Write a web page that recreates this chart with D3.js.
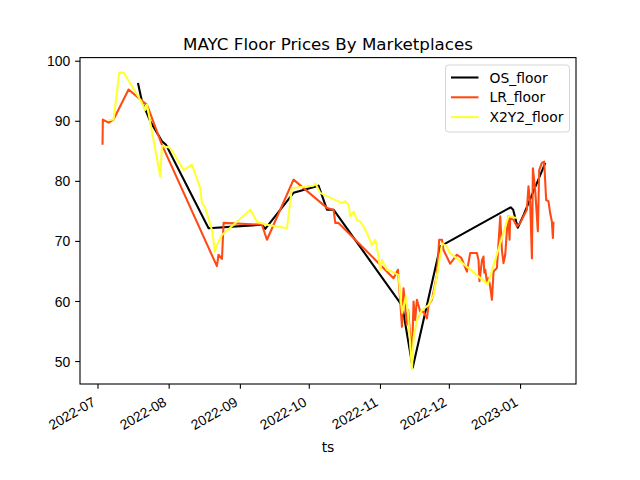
<!DOCTYPE html>
<html>
<head>
<meta charset="utf-8">
<script src="https://cdn.jsdelivr.net/npm/d3@7"></script>
<style>
  html, body { margin: 0; padding: 0; background: #fff; }
  svg { display: block; font-family: "DejaVu Sans", sans-serif; }
</style>
</head>
<body>
<svg id="chart" width="640" height="480"></svg>
<script>
const chartTitle = "MAYC Floor Prices By Marketplaces";
const xLabel = "ts";
const seriesNames = ["OS_floor", "LR_floor", "X2Y2_floor"];
const seriesColors = ["#000000", "#ff4a14", "#ffff33"];
const yTicks = [50, 60, 70, 80, 90, 100];

const osDates = ["2022-07-18 15:00","2022-07-20 09:00","2022-07-24 00:00","2022-07-29 02:00","2022-07-30 20:00",
  "2022-08-18 09:00","2022-09-10 15:00","2022-09-12 01:00","2022-09-24 09:00","2022-10-05 06:00",
  "2022-10-08 22:00","2022-10-11 19:00","2022-11-10 17:00","2022-11-15 06:00","2022-11-27 06:00",
  "2022-12-27 22:00","2022-12-29 00:00","2022-12-31 00:00","2023-01-02 12:00","2023-01-12 00:00"];
const osValues = [96.3,93.2,89.9,86.6,86.0,72.1,72.7,72.0,78.0,79.2,75.2,75.2,59.2,48.9,69.1,75.6,75.2,72.2,74.3,83.0];

const lrDates = ["2022-07-03 05:00","2022-07-03 08:00","2022-07-05 20:00","2022-07-08 00:00","2022-07-14 13:00",
  "2022-07-21 02:00","2022-07-22 13:00","2022-07-29 02:00","2022-08-22 00:00","2022-08-22 17:00",
  "2022-08-24 05:00","2022-08-24 22:00","2022-09-10 15:00","2022-09-12 19:00","2022-09-24 09:00",
  "2022-10-08 22:00","2022-10-11 19:00","2022-10-12 13:00","2022-10-13 23:00","2022-11-06 22:00",
  "2022-11-08 20:00","2022-11-09 20:00","2022-11-10 14:00","2022-11-11 06:00","2022-11-12 00:00",
  "2022-11-12 16:00","2022-11-13 07:00","2022-11-14 22:00","2022-11-15 15:00","2022-11-16 08:00",
  "2022-11-17 02:00","2022-11-18 13:00","2022-11-20 00:00","2022-11-21 11:00","2022-11-22 04:00",
  "2022-11-23 15:00","2022-11-25 19:00","2022-11-26 19:00","2022-11-28 00:00","2022-11-28 16:00",
  "2022-12-01 14:00","2022-12-04 12:00","2022-12-06 09:00","2022-12-08 21:00","2022-12-10 07:00",
  "2022-12-13 05:00","2022-12-13 22:00","2022-12-14 08:00","2022-12-15 10:00","2022-12-16 02:00",
  "2022-12-16 10:00","2022-12-16 20:00","2022-12-17 14:00","2022-12-18 06:00","2022-12-19 00:00",
  "2022-12-19 18:00","2022-12-20 11:00","2022-12-21 22:00","2022-12-23 09:00","2022-12-24 02:00",
  "2022-12-24 19:00","2022-12-25 13:00","2022-12-26 07:00","2022-12-26 23:00","2022-12-27 10:00",
  "2022-12-27 17:00","2022-12-29 04:00","2022-12-30 15:00","2023-01-01 02:00","2023-01-02 12:00",
  "2023-01-03 23:00","2023-01-04 16:00","2023-01-05 10:00","2023-01-06 04:00","2023-01-06 14:00",
  "2023-01-07 14:00","2023-01-08 18:00","2023-01-09 08:00","2023-01-10 12:00","2023-01-11 12:00",
  "2023-01-12 09:00","2023-01-13 09:00","2023-01-14 03:00","2023-01-14 21:00","2023-01-15 07:00",
  "2023-01-15 13:00"];
const lrValues = [86.0,90.2,89.7,90.2,95.2,93.1,92.7,86.0,65.8,67.7,
  67.0,73.0,72.7,70.2,80.2,75.5,75.2,73.0,73.0,63.8,
  65.2,59.9,55.7,62.1,59.3,56.0,58.5,50.5,59.9,56.8,
  60.2,58.2,58.2,57.1,59.3,60.2,64.3,70.2,70.2,68.5,
  66.2,67.7,67.2,64.9,68.0,68.0,66.8,63.3,66.8,67.4,
  64.7,65.2,63.2,63.8,62.4,60.2,64.9,65.5,74.1,68.5,
  66.3,67.7,71.8,74.1,70.2,73.8,73.5,72.4,73.0,74.1,
  75.2,79.1,76.3,67.1,82.1,78.5,71.6,81.8,83.0,83.2,
  76.8,76.6,74.6,73.2,70.5,73.2];

const x2Dates = ["2022-07-05 20:00","2022-07-08 00:00","2022-07-10 12:00","2022-07-12 09:00","2022-07-20 09:00",
  "2022-07-21 19:00","2022-07-22 13:00","2022-07-28 08:00","2022-07-29 02:00","2022-08-01 17:00",
  "2022-08-07 12:00","2022-08-11 03:00","2022-08-14 18:00","2022-08-15 12:00","2022-08-16 22:00",
  "2022-08-20 00:00","2022-08-21 02:00","2022-08-22 00:00","2022-08-24 05:00","2022-09-05 14:00",
  "2022-09-08 10:00","2022-09-12 19:00","2022-09-21 12:00","2022-09-23 16:00","2022-10-03 02:00",
  "2022-10-03 20:00","2022-10-06 00:00","2022-10-15 11:00","2022-10-16 21:00","2022-10-18 08:00",
  "2022-10-19 01:00","2022-10-20 12:00","2022-10-21 23:00","2022-10-23 10:00","2022-10-24 20:00",
  "2022-10-26 08:00","2022-10-28 12:00","2022-10-29 23:00","2022-10-31 09:00","2022-11-01 03:00",
  "2022-11-01 21:00","2022-11-04 01:00","2022-11-06 05:00","2022-11-09 02:00","2022-11-10 01:00",
  "2022-11-10 17:00","2022-11-12 05:00","2022-11-13 04:00","2022-11-14 22:00","2022-11-15 15:00",
  "2022-11-17 02:00","2022-11-19 06:00","2022-11-22 04:00","2022-11-24 08:00","2022-11-26 12:00",
  "2022-11-28 00:00","2022-11-30 04:00","2022-11-30 23:00","2022-12-17 23:00","2022-12-26 23:00",
  "2022-12-30 15:00"];
const x2Values = [90.1,90.2,98.05,98.05,93.0,91.8,92.7,80.7,85.8,85.5,
  81.8,82.7,78.8,76.3,75.5,71.6,68.2,69.3,71.0,75.2,
  73.2,72.7,72.1,78.8,79.2,79.6,78.0,76.3,76.6,76.0,
  74.1,74.9,73.5,73.2,72.4,71.3,69.3,70.2,67.4,65.2,
  66.8,65.2,64.9,64.3,60.2,58.0,60.7,58.2,48.65,53.8,
  56.8,58.5,59.3,61.0,65.8,69.6,69.1,68.2,62.8,74.1,
  73.8];

const parse = d3.utcParse("%Y-%m-%d %H:%M");
const series = [
  {name: seriesNames[0], color: seriesColors[0], pts: osDates.map((d, i) => ({t: parse(d), v: osValues[i]}))},
  {name: seriesNames[1], color: seriesColors[1], pts: lrDates.map((d, i) => ({t: parse(d), v: lrValues[i]}))},
  {name: seriesNames[2], color: seriesColors[2], pts: x2Dates.map((d, i) => ({t: parse(d), v: x2Values[i]}))}
];

const W = 640, H = 480;
const L = 80, R = 576, T = 57.6, B = 384;

const allPts = series.flatMap(s => s.pts);
const tExt = d3.extent(allPts, p => +p.t);
const vExt = d3.extent(allPts, p => p.v);
const tPad = (tExt[1] - tExt[0]) * 0.05;
const vPad = (vExt[1] - vExt[0]) * 0.05;

const x = d3.scaleUtc().domain([new Date(tExt[0] - tPad), new Date(tExt[1] + tPad)]).range([L, R]);
const y = d3.scaleLinear().domain([vExt[0] - vPad, vExt[1] + vPad]).range([B, T]);

const svg = d3.select("#chart");
svg.append("rect").attr("width", W).attr("height", H).attr("fill", "#fff");

// lines
const clip = svg.append("clipPath").attr("id", "clip").append("rect")
  .attr("x", L).attr("y", T).attr("width", R - L).attr("height", B - T);
const line = d3.line().x(p => x(p.t)).y(p => y(p.v));
const g = svg.append("g").attr("clip-path", "url(#clip)");
series.forEach(s => {
  g.append("path").datum(s.pts)
    .attr("d", line)
    .attr("fill", "none")
    .attr("stroke", s.color)
    .attr("stroke-width", 2.08)
    .attr("stroke-linejoin", "round")
    .attr("stroke-linecap", "butt");
});

// frame
svg.append("rect").attr("x", L).attr("y", T).attr("width", R - L).attr("height", B - T)
  .attr("fill", "none").attr("stroke", "#000").attr("stroke-width", 1.1);

// x axis
const xAxis = d3.axisBottom(x).ticks(d3.utcMonth.every(1)).tickFormat(d3.utcFormat("%Y-%m"))
  .tickSize(4.86).tickPadding(0);
const gx = svg.append("g").attr("transform", `translate(0,${B})`).call(xAxis);
gx.select(".domain").remove();
gx.selectAll(".tick line").attr("stroke", "#000").attr("stroke-width", 1.1);
gx.selectAll(".tick text")
  .attr("fill", "#000")
  .style("font-size", "13.9px")
  .attr("text-anchor", "end")
  .attr("dy", null)
  .attr("y", null)
  .attr("transform", `translate(-1.6,20.8) rotate(-30)`);

// y axis
const yAxis = d3.axisLeft(y).tickValues(yTicks).tickSize(4.86).tickPadding(4.86);
const gy = svg.append("g").attr("transform", `translate(${L},0)`).call(yAxis);
gy.select(".domain").remove();
gy.selectAll(".tick line").attr("stroke", "#000").attr("stroke-width", 1.1);
gy.selectAll(".tick text").attr("fill", "#000").style("font-size", "13.9px").attr("dy", "0.36em");

// title
svg.append("text").attr("x", (L + R) / 2).attr("y", 49.5).attr("text-anchor", "middle")
  .style("font-size", "16.7px").attr("fill", "#000").text(chartTitle);

// x label
svg.append("text").attr("x", (L + R) / 2).attr("y", 452).attr("text-anchor", "middle")
  .style("font-size", "13.9px").attr("fill", "#000").text(xLabel);

// legend
const lg = svg.append("g");
lg.append("rect").attr("x", 445.5).attr("y", 65).attr("width", 124).attr("height", 67)
  .attr("rx", 3).attr("fill", "#fff").attr("fill-opacity", 0.8)
  .attr("stroke", "#cccccc").attr("stroke-opacity", 0.8).attr("stroke-width", 1);
series.forEach((s, i) => {
  const cy = 77.5 + i * 19.8;
  lg.append("line").attr("x1", 451).attr("x2", 478.5).attr("y1", cy).attr("y2", cy)
    .attr("stroke", s.color).attr("stroke-width", 2.08);
  lg.append("text").attr("x", 489.5).attr("y", cy + 5).style("font-size", "13.9px")
    .attr("fill", "#000").text(s.name);
});
</script>
</body>
</html>
